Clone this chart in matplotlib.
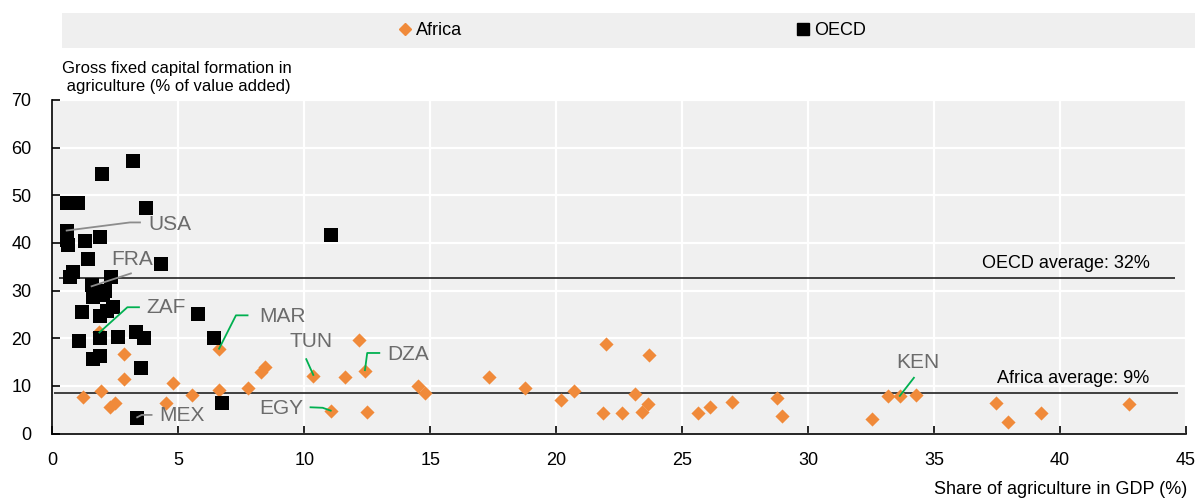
import matplotlib
matplotlib.use("Agg")
import matplotlib.pyplot as plt
from matplotlib import font_manager
from matplotlib.lines import Line2D
from matplotlib.patches import Rectangle

names = {f.name for f in font_manager.fontManager.ttflist}
base = 'Liberation Sans Narrow' if 'Liberation Sans Narrow' in names else 'Liberation Sans'
plt.rcParams['font.family'] = [base, 'DejaVu Sans']

# OECD: (share of agriculture in GDP, GFCF in agriculture % of VA)
oecd_x = [3.19, 1.96, 0.57, 1.03, 0.80, 3.72, 0.57, 0.62, 0.57, 1.30, 1.89, 1.40, 4.30,
          0.83, 0.70, 2.32, 1.59, 2.09, 1.63, 2.00, 1.17, 2.42, 2.16, 1.89, 5.77, 1.06,
          1.89, 2.59, 3.31, 3.64, 6.40, 1.63, 1.89, 3.51, 6.72, 3.35, 11.06]
oecd_y = [57.3, 54.5, 48.4, 48.4, 48.4, 47.4, 42.6, 39.6, 40.6, 40.3, 41.3, 36.6, 35.6,
          33.8, 32.8, 32.8, 31.1, 30.0, 28.7, 29.0, 25.6, 26.6, 25.7, 24.7, 25.1, 19.5,
          20.1, 20.3, 21.2, 20.1, 20.0, 15.7, 16.3, 13.8, 6.5, 3.2, 41.7]

africa_x = [1.87, 2.86, 2.85, 1.92, 1.23, 2.29, 2.49, 4.78, 4.51, 5.53, 6.63, 6.62, 7.78,
            8.28, 8.44, 10.36, 11.61, 12.18, 12.41, 11.05, 12.48, 14.52, 14.79, 17.33,
            18.76, 20.21, 20.70, 21.96, 23.69, 21.87, 22.62, 23.12, 23.39, 23.65, 25.64,
            26.10, 26.96, 28.78, 28.98, 32.52, 33.18, 33.64, 34.27, 37.44, 37.94, 39.24,
            42.74]
africa_y = [21.2, 16.6, 11.5, 9.0, 7.6, 5.6, 6.5, 10.5, 6.3, 8.1, 9.1, 17.8, 9.6,
            13.0, 13.9, 12.1, 11.8, 19.6, 13.2, 4.8, 4.6, 10.0, 8.6, 11.8,
            9.5, 7.0, 9.0, 18.7, 16.5, 4.2, 4.4, 8.2, 4.6, 6.2, 4.2,
            5.5, 6.7, 7.5, 3.7, 3.0, 7.9, 7.9, 8.1, 6.3, 2.4, 4.4,
            6.2]

oecd_avg = 32.7
africa_avg = 8.4

# labels: name, leader path (data coords), text position, alignment, colour
gray = '#8c8c8c'
green = '#00b050'
annots = [
    ('USA', [(0.57, 42.6), (3.08, 44.3), (3.48, 44.3)], (3.8, 43.9), 'left', gray),
    ('FRA', [(1.56, 30.9), (3.12, 33.6)], (2.35, 36.5), 'left', gray),
    ('ZAF', [(1.87, 21.2), (2.98, 26.5), (3.44, 26.5)], (3.75, 26.5), 'left', green),
    ('MAR', [(6.62, 17.8), (7.29, 24.8), (7.75, 24.8)], (8.2, 24.6), 'left', green),
    ('TUN', [(10.08, 15.6), (10.36, 12.3)], (9.4, 19.3), 'left', green),
    ('DZA', [(12.41, 13.3), (12.50, 16.9), (12.98, 16.9)], (13.3, 16.6), 'left', green),
    ('EGY', [(10.25, 5.5), (10.73, 5.4), (11.05, 4.8)], (9.95, 5.2), 'right', green),
    ('KEN', [(33.64, 7.9), (34.2, 11.7)], (33.5, 14.9), 'left', green),
    ('MEX', [(3.37, 3.4), (3.55, 3.9), (3.94, 3.9)], (4.25, 3.7), 'left', gray),
]

fig = plt.figure(figsize=(12.03, 5.0), dpi=100)
ax = fig.add_axes([52.3 / 1203, 1 - 433.5 / 500, (1186 - 52.3) / 1203, (433.5 - 100) / 500])
ax.set_facecolor('#f0f0f0')
ax.set_xlim(0, 45)
ax.set_ylim(0, 70)
ax.set_xticks(range(0, 46, 5))
ax.set_yticks(range(0, 71, 10))
ax.grid(True, color='white', linewidth=1.6)
ax.set_axisbelow(True)
for s in ['top', 'right']:
    ax.spines[s].set_visible(False)
for s in ['left', 'bottom']:
    ax.spines[s].set_color('black')
    ax.spines[s].set_linewidth(1.2)
ax.tick_params(axis='both', direction='in', length=6, width=1.2, labelsize=13, colors='black')
ax.tick_params(axis='x', pad=13)
ax.tick_params(axis='y', pad=15)

ax.hlines(oecd_avg, 0.28, 44.55, color='#222222', linewidth=1.2, zorder=2)
ax.hlines(africa_avg, 0.07, 44.7, color='#222222', linewidth=1.2, zorder=2)

africa_col = '#f08a3a'
ax.scatter(africa_x, africa_y, marker='D', s=52, color=africa_col, linewidths=0, zorder=3)
ax.scatter(oecd_x, oecd_y, marker='s', s=95, color='black', linewidths=0, zorder=4)

for name, path, tpos, ha, col in annots:
    xs = [p[0] for p in path]
    ys = [p[1] for p in path]
    ax.plot(xs, ys, color=col, linewidth=1.3, zorder=5)
    ax.text(tpos[0], tpos[1], name, fontsize=15, color='#6b6b6b', va='center', ha=ha, zorder=6)

ax.text(43.56, oecd_avg + 1.3, 'OECD average: 32%', fontsize=13, ha='right', va='bottom')
ax.text(43.56, africa_avg + 1.3, 'Africa average: 9%', fontsize=13, ha='right', va='bottom')

fig.text(62 / 1203, 1 - 78 / 500, 'Gross fixed capital formation in\n agriculture (% of value added)',
         fontsize=12, ha='left', va='center', linespacing=1.25)
fig.text(1187 / 1203, 1 - 490 / 500, 'Share of agriculture in GDP (%)', fontsize=13,
         ha='right', va='center')

fig.patches.append(Rectangle((62 / 1203, 1 - 48 / 500), (1195 - 62) / 1203, 35 / 500,
                             transform=fig.transFigure, facecolor='#efefef', edgecolor='none', zorder=0))
handles = [Line2D([], [], marker='D', color=africa_col, linestyle='none', markersize=6),
           Line2D([], [], marker='s', color='black', linestyle='none', markersize=8)]
fig.legend(handles, ['Africa', 'OECD'], loc='center', bbox_to_anchor=(0.5245, 1 - 30.5 / 500),
           ncol=2, frameon=False, fontsize=13, columnspacing=18.4, handletextpad=0.1,
           handlelength=1.0)

fig.savefig('out.png', dpi=100)
